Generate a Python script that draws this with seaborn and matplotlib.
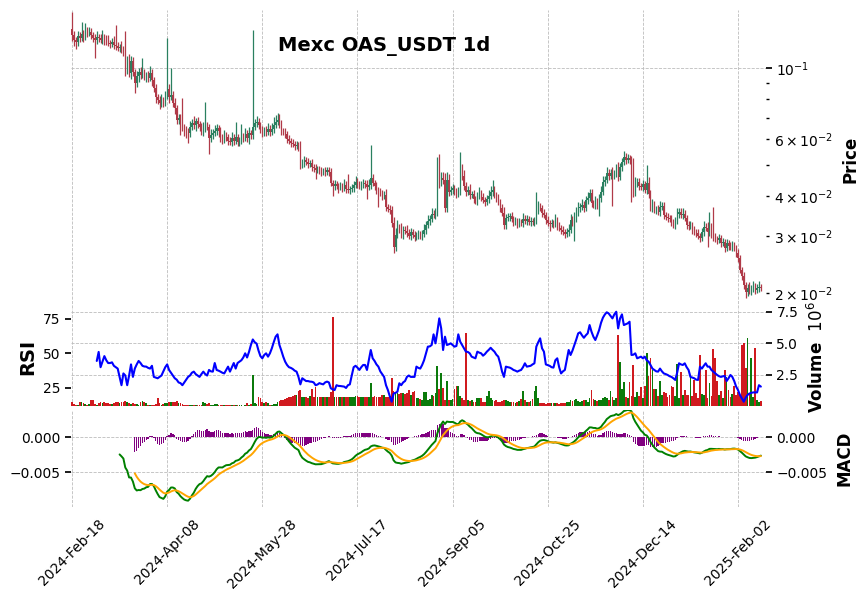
import numpy as np
import pandas as pd
import matplotlib
matplotlib.use("Agg")
import matplotlib.pyplot as plt
import seaborn as sns

# ---------------- data ----------------
title_text = "Mexc OAS_USDT 1d"
start_date = "2024-02-18"
open0_e5 = 13217  # first open, price * 1e5

# daily close, price * 1e5
close_e5 = [
    12663, 12218, 12045, 12572, 12394, 12753, 12572, 13030, 12845, 12937,
    12663, 12394, 12218, 12483, 12394, 12218, 12483, 12305, 12131, 11959,
    11874, 12045, 11789, 11705, 11539, 11622, 11375, 11213, 9858, 10514,
    9649, 10514, 9718, 8983, 9444, 9718, 9512, 9649, 9444, 9512,
    9310, 9649, 9178, 8668, 8128, 7955, 7786, 7955, 7786, 8245,
    8606, 8128, 8245, 7786, 7513, 6896, 6995, 6654, 6560, 6420,
    6374, 6284, 6560, 6750, 6654, 6847, 6702, 6560, 6329, 6513,
    6607, 6560, 6063, 6195, 6284, 6374, 6513, 6374, 6063, 5977,
    6150, 6107, 5934, 5892, 6063, 5934, 6107, 5892, 5934, 6107,
    6063, 6239, 6063, 6284, 6195, 6560, 6750, 6798, 6654, 6420,
    6284, 6420, 6329, 6467, 6329, 6467, 6654, 6798, 6896, 6702,
    6374, 6329, 6239, 6020, 5934, 5850, 5809, 5726, 5767, 5686,
    4998, 5070, 5180, 5106, 5034, 5070, 4927, 4892, 4822, 4857,
    4788, 4754, 4788, 4754, 4822, 4754, 4395, 4301, 4363, 4301,
    4271, 4301, 4240, 4332, 4210, 4180, 4210, 4240, 4332, 4426,
    4363, 4301, 4332, 4395, 4363, 4271, 4332, 4554, 4395, 4301,
    4180, 4121, 4091, 4004, 4033, 3702, 3649, 3623, 3302, 2781,
    3030, 3186, 3163, 3030, 3141, 3118, 3074, 3009, 3096, 3030,
    2987, 3030, 3052, 3009, 3052, 3141, 3255, 3349, 3397, 3521,
    3496, 3572, 4686, 4426, 4554, 4490, 3675, 4490, 4121, 4180,
    4240, 4121, 4062, 4150, 4754, 4620, 4301, 4121, 4180, 4033,
    4062, 3920, 3864, 4004, 4091, 3976, 3892, 3836, 3920, 4004,
    4121, 4180, 4033, 3948, 3836, 3675, 3546, 3255, 3422, 3446,
    3471, 3397, 3325, 3349, 3278, 3325, 3302, 3397, 3349, 3397,
    3325, 3349, 3325, 3349, 3623, 3702, 3675, 3546, 3496, 3373,
    3302, 3278, 3302, 3278, 3373, 3232, 3186, 3141, 3096, 3052,
    3096, 3141, 3373, 3325, 3422, 3546, 3675, 3702, 3755, 3675,
    3892, 3948, 4091, 3809, 3755, 3836, 3728, 3948, 4121, 4426,
    4490, 4720, 4620, 4720, 4653, 4686, 4892, 4587, 4927, 5106,
    5293, 5180, 5255, 5180, 5106, 4091, 4395, 4426, 4301, 4271,
    4363, 4180, 4395, 4062, 3675, 3755, 3623, 3649, 3572, 3702,
    3728, 3496, 3446, 3422, 3397, 3325, 3255, 3349, 3521, 3572,
    3496, 3521, 3422, 3255, 3232, 3255, 3141, 3096, 3074, 3009,
    2966, 3096, 3209, 3186, 3096, 3209, 3030, 2987, 2945, 2924,
    2966, 2862, 2882, 2761, 2862, 2801, 2781, 2821, 2761, 2664,
    2571, 2360, 2261, 2120, 2016, 2075, 2031, 2060, 2089, 2045,
    2075, 2089, 2075,
]

# upper / lower wick beyond the body, in percent of the body edge
upper_wick_pct = [
    13, 3, 2, 4, 3, 9, 3, 6, 3, 4,  3, 2, 3, 4, 2, 3, 5, 2, 3, 4,
    2, 3, 4, 15, 3, 2, 4, 3, 16, 4,  5, 4, 3, 2, 4, 3, 4, 11, 3, 2,
    3, 5, 3, 2, 3, 2, 3, 4, 2, 3,  44, 4, 21, 3, 4, 2, 3, 3, 21, 2,
    3, 2, 4, 3, 5, 2, 3, 2, 3, 4,  19, 3, 2, 4, 3, 4, 3, 2, 3, 3,
    4, 3, 2, 3, 4, 3, 11, 2, 3, 10,  3, 4, 3, 4, 2, 100, 3, 4, 3, 2,
    3, 2, 3, 4, 3, 4, 6, 5, 5, 4,  3, 2, 3, 2, 3, 2, 3, 2, 3, 2,
    4, 3, 3, 2, 3, 2, 3, 2, 3, 2,  2, 3, 2, 3, 2, 2, 3, 2, 3, 2,
    2, 3, 2, 4, 3, 11, 2, 3, 3, 4,  3, 2, 3, 3, 2, 3, 4, 27, 3, 2,
    3, 2, 3, 2, 3, 4, 2, 3, 3, 4,  5, 6, 3, 4, 3, 3, 4, 3, 3, 2,
    3, 2, 3, 2, 3, 4, 3, 4, 3, 4,  3, 3, 13, 15, 4, 4, 5, 6, 4, 3,
    3, 2, 3, 3, 15, 6, 4, 3, 3, 4,  2, 3, 2, 3, 4, 2, 3, 2, 3, 4,
    4, 7, 3, 2, 3, 2, 3, 4, 3, 3,  2, 3, 2, 3, 2, 3, 2, 4, 3, 3,
    2, 3, 2, 3, 14, 4, 3, 2, 3, 2,  3, 2, 3, 2, 4, 2, 3, 2, 3, 2,
    3, 4, 4, 3, 4, 4, 4, 3, 4, 3,  3, 4, 3, 3, 2, 4, 3, 3, 4, 4,
    3, 4, 3, 3, 4, 3, 3, 4, 3, 3,  4, 3, 3, 2, 3, 3, 4, 3, 3, 2,
    3, 2, 14, 4, 3, 4, 3, 2, 3, 4,  3, 3, 2, 3, 2, 3, 2, 3, 4, 3,
    3, 4, 3, 2, 3, 3, 2, 3, 2, 3,  2, 3, 4, 3, 4, 11, 3, 22, 3, 2,
    3, 2, 3, 2, 3, 2, 3, 3, 2, 2,  3, 2, 2, 3, 2, 3, 4, 3, 4, 3,
    3, 4, 2,
]
lower_wick_pct = [
    4, 4, 5, 3, 3, 2, 4, 3, 3, 2,  3, 3, 12, 3, 3, 2, 3, 4, 3, 2,
    3, 2, 3, 3, 2, 3, 2, 3, 4, 3,  3, 4, 3, 7, 3, 4, 3, 2, 3, 4,
    3, 2, 4, 3, 4, 3, 4, 3, 3, 2,  3, 4, 2, 3, 4, 3, 3, 7, 3, 4,
    5, 7, 3, 2, 3, 4, 3, 3, 2, 3,  3, 2, 11, 3, 3, 2, 3, 4, 3, 3,
    2, 3, 3, 2, 3, 3, 2, 3, 3, 2,  3, 2, 3, 4, 3, 3, 2, 3, 3, 2,
    3, 2, 3, 2, 3, 2, 3, 2, 2, 3,  3, 2, 3, 3, 2, 3, 2, 3, 2, 3,
    3, 2, 3, 2, 3, 2, 3, 3, 6, 2,  2, 3, 2, 3, 2, 3, 2, 7, 3, 2,
    4, 2, 3, 2, 3, 2, 3, 2, 3, 2,  3, 2, 3, 2, 3, 8, 2, 3, 2, 3,
    3, 10, 2, 3, 2, 3, 2, 3, 3, 4,  3, 2, 3, 2, 3, 2, 3, 2, 3, 2,
    3, 2, 3, 2, 3, 2, 3, 2, 3, 2,  2, 3, 3, 4, 3, 3, 3, 3, 3, 2,
    3, 2, 3, 2, 3, 3, 3, 3, 2, 3,  2, 3, 2, 3, 2, 3, 2, 3, 2, 3,
    2, 3, 2, 3, 2, 3, 2, 3, 3, 2,  3, 2, 3, 2, 3, 2, 2, 3, 2, 3,
    2, 3, 2, 3, 2, 3, 2, 3, 2, 3,  2, 5, 2, 3, 2, 3, 2, 3, 2, 3,
    2, 3, 2, 3, 13, 3, 2, 3, 2, 3,  2, 3, 2, 3, 2, 3, 2, 7, 3, 2,
    3, 2, 3, 2, 20, 3, 2, 3, 2, 3,  2, 3, 2, 3, 25, 3, 2, 3, 3, 2,
    3, 2, 3, 3, 2, 3, 2, 3, 2, 3,  2, 3, 2, 3, 2, 3, 2, 3, 2, 3,
    2, 3, 2, 3, 3, 2, 3, 2, 3, 2,  3, 2, 3, 2, 10, 3, 2, 3, 2, 3,
    2, 3, 2, 3, 2, 3, 2, 3, 2, 3,  3, 2, 3, 3, 4, 3, 2, 3, 2, 3,
    2, 3, 2,
]

# daily volume in millions
volume_m = [
    .30, .12, .08, .10, .28, .30, .25, .12, .10, .15,
    .50, .45, .15, .10, .25, .28, .20, .30, .25, .20,
    .15, .18, .22, .30, .28, .25, .35, .30, .40, .30,
    .20, .15, .22, .18, .12, .10, .35, .40, .30, .20,
    .10, .08, .05, .10, .12, .66, .20, .10, .15, .20,
    .25, .30, .35, .30, .28, .40, .25, .20, .15, .10,
    .05, .04, .08, .06, .05, .04, .06, .08, .05, .30,
    .20, .15, .22, .10, .08, .15, .12, .05, .04, .05,
    .08, .06, .05, .04, .06, .05, .04, .06, .05, .04,
    .03, .05, .22, .10, .15, 2.47, .20, .15, .70, .65,
    .30, .25, .30, .20, .08, .05, .15, .18, .35, .40,
    .45, .50, .55, .60, .75, .70, .78, .90, .85, 1.2,
    1.25, .70, .72, .68, .65, .80, 1.35, .75, 1.55, .70,
    .72, .70, .68, .72, .70, .75, 1.1, 7.07, .72, .70,
    .72, .75, .70, .72, .68, .70, .75, .72, .75, .80,
    .78, .70, .72, .68, .70, .72, .70, 1.85, .75, .78,
    .72, .70, .75, .90, .85, .70, .72, .80, 2.2, 1.2,
    1.05, 1.0, .95, 1.0, 1.05, .95, 1.0, 1.25, .90, 1.1,
    1.2, .65, .60, .55, .50, 1.1, 1.1, .50, .55, .90,
    .80, 1.0, 3.2, 1.35, 2.6, 1.45, .45, 2.0, .50, .45,
    .55, 1.35, 1.6, 1.6, .80, .60, .45, 5.79, .45, .40,
    .45, .35, .35, .65, .65, .60, .35, .35, .80, 1.2,
    .60, .50, .40, .45, .35, .30, .40, .50, .45, .40,
    .35, .30, .30, .25, .35, .40, .55, 1.2, .45, .35,
    .30, .40, .55, 1.2, 1.6, .60, .25, .25, .20, .15,
    .20, .25, .20, .20, .25, .20, .15, .20, .25, .20,
    .30, .35, .45, .40, .45, .55, .40, .35, .40, .50,
    .45, .35, .60, 1.25, .55, .45, .40, .50, .45, .60,
    .70, .60, .50, 1.2, .70, .50, .60, 5.66, 3.53, 1.35,
    1.95, .75, .60, 1.95, .80, 3.3, .70, 1.1, .80, 1.55,
    .60, 1.6, 4.2, 2.39, 3.85, 2.87, 1.35, 1.35, .80, 2.0,
    .85, 1.1, 1.0, .70, .90, 1.6, 1.55, .80, 3.35, .60,
    2.7, .90, 1.25, .90, .90, 2.5, .80, 2.05, 1.0, .60,
    4.1, .95, .85, 2.9, .60, 1.85, .80, 4.55, 3.8, 2.0,
    .85, 1.2, .60, 2.9, 2.3, 1.3, .70, .95, 1.6, .90,
    1.1, .85, 4.9, 5.0, 3.0, 5.4, 1.0, 3.8, .70, 4.6,
    .50, .30, .40,
]

# RSI as drawn in the reference, starting at candle 13
rsi_start = 13
rsi_values = [
    44.5, 51, 40, 44, 48, 45, 43, 43, 43.5, 41,
    40, 39, 33, 27, 35.5, 34, 27, 34, 42, 33,
    39, 42, 44.5, 43, 41, 40.5, 40.4, 39.5, 39, 41,
    33, 32.5, 32, 33, 34, 37, 40, 42, 38, 36,
    34, 32, 31, 29, 28.5, 27, 29, 31, 33, 34,
    36, 36.8, 35, 34, 33, 35, 36.8, 35, 34, 38,
    37, 36.8, 43, 38, 37.5, 36.8, 36, 35.5, 38, 40.4,
    36.8, 40, 43, 39, 43, 44, 45, 47, 50, 47,
    51, 56, 60, 58, 57, 52, 48, 46.4, 48.8, 50,
    47.6, 50, 53.6, 58, 62, 63.7, 56, 52, 47.6, 44,
    41.6, 40, 39.5, 38.7, 37.5, 36.8, 33, 27.6, 32, 31,
    30, 30, 29.6, 29.5, 29, 27, 27.5, 28.5, 28, 27.6,
    29, 29.6, 29, 24.8, 24, 23.5, 27, 26.5, 26.4, 26.2,
    26, 25, 27, 27.6, 34, 40, 41, 39.7, 38, 40,
    41.6, 41.6, 38, 45, 52.4, 46.4, 44.5, 42, 40.4, 37,
    35, 33, 27, 23.5, 19, 15.1, 21, 21.5, 22.3, 28.4,
    27, 29, 30, 33, 34, 33, 33, 33, 40.4, 39.5,
    39, 41.6, 45, 50, 54.8, 55, 56, 63.7, 57.2, 65.6,
    75.2, 68, 52.4, 62, 56, 56.5, 57.2, 56, 54.8, 55.3,
    63.7, 58.4, 56, 53.6, 51.2, 51, 50, 47.6, 47, 46.4,
    51.2, 50.5, 50, 48.3, 49.5, 51.2, 52.5, 54, 52.5, 51.2,
    49, 47.6, 42.8, 36.8, 33, 40.4, 40, 39.7, 39, 38,
    37.5, 36.8, 37.5, 38, 40, 42.8, 40.4, 40.7, 41, 42,
    42.8, 54.8, 58, 60.8, 53.6, 51.2, 42, 41.5, 41, 40,
    39.7, 45, 46.4, 40, 35.5, 37, 38, 45, 52.4, 48.8,
    52, 56, 60, 64.4, 65.2, 63, 61.2, 63, 64.4, 70.4,
    65.6, 62, 59.6, 63, 66.8, 72, 75.7, 78, 79.6, 78.8,
    77, 75.2, 78.1, 80, 68, 75.2, 78.1, 70.4, 71, 71.6,
    72.8, 48.8, 49, 50, 46.4, 47, 47.6, 46.4, 47.6, 45,
    44, 41.6, 39, 38, 37, 36.8, 39, 37, 35.5, 35,
    34.4, 33.5, 33, 32, 30.8, 36, 42.8, 42, 41.6, 42.8,
    40, 38, 33, 32.5, 32, 31, 30.8, 40.4, 39, 41,
    42.8, 40.4, 40.4, 38, 36.8, 35.5, 34.4, 33.5, 33, 33.4,
    33.7, 30, 32, 34.4, 33, 30, 26, 23.5, 20, 17.5,
    15.1, 18, 20, 21, 21.5, 21.8, 21.8, 21.8, 27, 26,
]

# ---------------- derived series ----------------
n = len(close_e5)
idx = np.arange(n)
close = np.array(close_e5, dtype=float) / 1e5
open_ = np.concatenate([[open0_e5 / 1e5], close[:-1]])
body_top = np.maximum(open_, close)
body_bot = np.minimum(open_, close)
high = body_top * (1 + np.array(upper_wick_pct) / 100.0)
low = body_bot * (1 - np.array(lower_wick_pct) / 100.0)
volume = np.array(volume_m, dtype=float)
dates = pd.date_range(start_date, periods=n, freq="D")
rsi_idx = np.arange(rsi_start, rsi_start + len(rsi_values))

s = pd.Series(close)
macd = (s.ewm(span=12, adjust=False).mean() - s.ewm(span=26, adjust=False).mean())
macd[:25] = np.nan
signal = macd.ewm(span=9, adjust=False, min_periods=9).mean()
hist = (macd - signal).values
macd = macd.values
signal = signal.values

# ---------------- style ----------------
sns.set_theme(style="white")
plt.rcParams["font.family"] = ["DejaVu Sans"]
for k in ("text.color", "axes.labelcolor", "xtick.color", "ytick.color"):
    plt.rcParams[k] = "black"

UP, DOWN = "#2a8060", "#b03a48"
VUP, VDOWN = "#0b7a0b", "#d01a1f"
GRID = dict(color="#bdbdbd", linestyle="--", linewidth=0.6)

fig = plt.figure(figsize=(8.65, 6.0), dpi=100)
L, W = 70.5 / 865, 695.5 / 865
ax_p = fig.add_axes([L, 292 / 600, W, 298 / 600])
ax_v = fig.add_axes([L, 194 / 600, W, 98 / 600], sharex=ax_p)
ax_m = fig.add_axes([L, 93 / 600, W, 97 / 600], sharex=ax_p)

xlim = (-0.8, 364.7)
xt = list(range(0, n, 50))

for ax in (ax_p, ax_v, ax_m):
    for sp in ax.spines.values():
        sp.set_visible(False)
    ax.set_facecolor("white")

# ---- price panel ----
cols = np.where(close >= open_, UP, DOWN)
ax_p.vlines(idx, low, high, colors=cols, linewidth=0.9)
ax_p.bar(idx, body_top - body_bot, bottom=body_bot, width=0.62, color=cols, linewidth=0)
ax_p.set_yscale("log")
ax_p.set_ylim(0.01797, 0.1514)
ax_p.yaxis.tick_right()
ax_p.yaxis.set_label_position("right")
ax_p.set_ylabel("Price", fontsize=12, fontweight="bold", labelpad=6)
ax_p.grid(True, which="major", **GRID)
ax_p.tick_params(axis="x", which="both", bottom=False, labelbottom=False)
ax_p.tick_params(axis="y", which="major", length=4, labelsize=10)
ax_p.tick_params(axis="y", which="minor", length=2.5, labelsize=10)

# ---- volume + RSI panel ----
vcols = np.where(close >= open_, VUP, VDOWN)
ax_v.bar(idx, volume, width=0.92, color=vcols, linewidth=0)
ax_v.set_ylim(0, 7.81)
ax_v.grid(True, **GRID)

ax_r = ax_v.twinx()
for sp in ax_r.spines.values():
    sp.set_visible(False)
sns.lineplot(x=rsi_idx, y=rsi_values, ax=ax_r, color="blue", linewidth=1.5)
ax_r.set_ylim(12.0, 82.7)
ax_r.set_yticks([25, 50, 75])
ax_r.yaxis.tick_left()
ax_r.yaxis.set_label_position("left")
ax_r.set_ylabel("RSI", fontsize=14, fontweight="bold", labelpad=4)
ax_r.grid(False)
ax_r.tick_params(axis="y", length=4, labelsize=10)
ax_r.tick_params(axis="x", bottom=False, labelbottom=False)

ax_v.yaxis.tick_right()
ax_v.yaxis.set_label_position("right")
ax_v.set_yticks([2.5, 5.0, 7.5])
ax_v.set_yticklabels(["2.5", "5.0", "7.5"])
ax_v.set_ylabel("Volume  $10^{6}$", fontsize=12, fontweight="bold", labelpad=6)
ax_v.tick_params(axis="x", bottom=False, labelbottom=False)
ax_v.tick_params(axis="y", length=4, labelsize=10)

# ---- MACD panel ----
ax_m.bar(idx, hist, width=0.7, color="purple", linewidth=0)
sns.lineplot(x=idx, y=macd, ax=ax_m, color="green", linewidth=1.4)
sns.lineplot(x=idx, y=signal, ax=ax_m, color="orange", linewidth=1.4)
ax_m.set_ylim(-0.0100, 0.0039)
ax_m.grid(True, **GRID)
ax_m.set_ylabel("")
ax_m2 = ax_m.twinx()
for sp in ax_m2.spines.values():
    sp.set_visible(False)
for a in (ax_m, ax_m2):
    a.set_ylim(-0.0100, 0.0039)
    a.set_yticks([-0.005, 0.0])
    a.set_yticklabels(["\u22120.005", "0.000"])
    a.tick_params(axis="y", length=4, labelsize=10)
ax_m.yaxis.tick_left()
ax_m2.yaxis.tick_right()
ax_m2.set_ylabel("MACD", fontsize=12, fontweight="bold", labelpad=6)
ax_m2.grid(False)

ax_m.set_xlim(*xlim)
ax_m.set_xticks(xt)
ax_m.set_xticklabels([dates[i].strftime("%Y-%b-%d") for i in xt], rotation=45,
                     ha="center", fontsize=10)
ax_m.tick_params(axis="x", length=4, labelsize=10, pad=3)

fig.text(384 / 865, 1 - 46 / 600, title_text, ha="center", va="center",
         fontsize=14, fontweight="bold")

fig.savefig("out.png", dpi=100, facecolor="white")
